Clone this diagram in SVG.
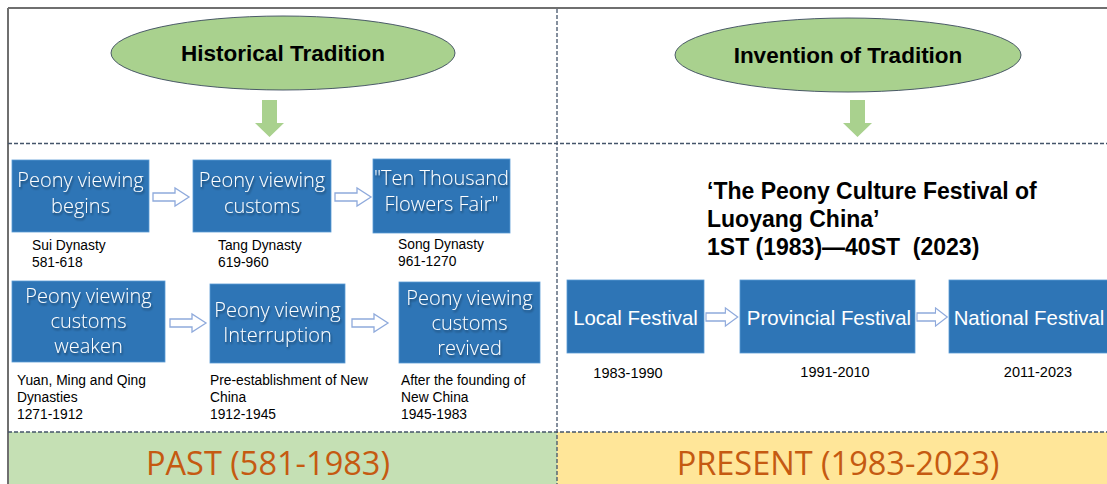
<svg xmlns="http://www.w3.org/2000/svg" width="1107" height="484" viewBox="0 0 1107 484">
<style>
.frame{stroke:#6f6f6f;stroke-width:2;fill:none}
.dash{stroke:#44546a;stroke-width:1.3;stroke-dasharray:4,2;fill:none}
.oval{fill:#a9d18e;stroke:#3b4a5e;stroke-width:0.9}
.oval-t{font-family:"Liberation Sans",Arial,sans-serif;font-weight:bold;font-size:22.5px;fill:#000;text-anchor:middle}
.green-arrow{fill:#a9d18e}
.box{fill:#2e75b6;stroke:#5b9bd5;stroke-width:0.8}
.bt{font-family:"Open Sans","Noto Sans",sans-serif;font-weight:300;font-size:20px;fill:#fff;text-anchor:middle}
.bt2{font-family:"Liberation Sans",Arial,sans-serif;font-size:20.4px;fill:#fff;text-anchor:middle}
.lbl{font-family:"Liberation Sans",Arial,sans-serif;font-size:13.8px;fill:#000}
.lblc{font-family:"Liberation Sans",Arial,sans-serif;font-size:14.5px;fill:#000;text-anchor:middle}
.hollow{fill:#fff;stroke:#8faadc;stroke-width:1.3}
.title{font-family:"Liberation Sans",Arial,sans-serif;font-weight:bold;font-size:23px;fill:#000}
.era{font-family:"Open Sans","Noto Sans",sans-serif;font-size:32.5px;fill:#c55a11;text-anchor:middle}
</style>
<defs>
<filter id="sh" x="-10%" y="-20%" width="130%" height="150%">
<feGaussianBlur in="SourceAlpha" stdDeviation="1.2"/>
<feOffset dx="1" dy="1.5" result="b"/>
<feFlood flood-color="#000" flood-opacity="0.45"/>
<feComposite in2="b" operator="in"/>
<feMerge><feMergeNode/><feMergeNode in="SourceGraphic"/></feMerge>
</filter>
<path id="ha" d="M0,-4 H22 V-9 L36,0 L22,9 V4 H0 Z"/>
</defs>

<!-- bottom bands -->
<g id="bands">
<rect x="8" y="432" width="549" height="52" fill="#c5e0b4"/>
<rect x="557" y="432" width="550" height="52" fill="#ffe699"/>
<text class="era" x="268" y="475">PAST (581-1983)</text>
<text class="era" x="838" y="475">PRESENT (1983-2023)</text>
</g>

<!-- frame and dividers -->
<g id="frame">
<line class="frame" x1="8" y1="8" x2="1107" y2="8"/>
<line class="frame" x1="8" y1="8" x2="8" y2="484"/>
<line class="dash" x1="8" y1="143.5" x2="1107" y2="143.5"/>
<line class="dash" x1="8" y1="432" x2="1107" y2="432"/>
<line class="dash" x1="557" y1="9" x2="557" y2="484"/>
</g>

<g id="historical">
<ellipse class="oval" cx="283" cy="53" rx="172" ry="37"/>
<text class="oval-t" x="283" y="61">Historical Tradition</text>
</g>
<g id="invention">
<ellipse class="oval" cx="848" cy="55" rx="173" ry="37"/>
<text class="oval-t" x="848" y="63">Invention of Tradition</text>
</g>

<g id="b1">
<rect class="box" x="12" y="160" width="137" height="72"/>
<text class="bt" filter="url(#sh)"><tspan x="80.5" y="187">Peony viewing</tspan><tspan x="80.5" y="213">begins</tspan></text>
<text class="lbl"><tspan x="32" y="250">Sui Dynasty</tspan><tspan x="32" y="267">581-618</tspan></text>
</g>
<g id="b2">
<rect class="box" x="193" y="160" width="138" height="72"/>
<text class="bt" filter="url(#sh)"><tspan x="262" y="187">Peony viewing</tspan><tspan x="262" y="213">customs</tspan></text>
<text class="lbl"><tspan x="218" y="250">Tang Dynasty</tspan><tspan x="218" y="267">619-960</tspan></text>
</g>
<g id="b3">
<rect class="box" x="373" y="159" width="137" height="74"/>
<text class="bt" filter="url(#sh)"><tspan x="441.5" y="185">"Ten Thousand</tspan><tspan x="441.5" y="211">Flowers Fair"</tspan></text>
<text class="lbl"><tspan x="398" y="249">Song Dynasty</tspan><tspan x="398" y="266">961-1270</tspan></text>
</g>
<g id="b4">
<rect class="box" x="12" y="281" width="153" height="81"/>
<text class="bt" filter="url(#sh)"><tspan x="88.5" y="303">Peony viewing</tspan><tspan x="88.5" y="328">customs</tspan><tspan x="88.5" y="353">weaken</tspan></text>
<text class="lbl"><tspan x="17" y="385">Yuan, Ming and Qing</tspan><tspan x="17" y="402">Dynasties</tspan><tspan x="17" y="419">1271-1912</tspan></text>
</g>
<g id="b5">
<rect class="box" x="210" y="284" width="135" height="79"/>
<text class="bt" filter="url(#sh)"><tspan x="277.5" y="317">Peony viewing</tspan><tspan x="277.5" y="342">Interruption</tspan></text>
<text class="lbl"><tspan x="210" y="385">Pre-establishment of New</tspan><tspan x="210" y="402">China</tspan><tspan x="210" y="419">1912-1945</tspan></text>
</g>
<g id="b6">
<rect class="box" x="399" y="282" width="141" height="81"/>
<text class="bt" filter="url(#sh)"><tspan x="469.5" y="305">Peony viewing</tspan><tspan x="469.5" y="330">customs</tspan><tspan x="469.5" y="355">revived</tspan></text>
<text class="lbl"><tspan x="401" y="385">After the founding of</tspan><tspan x="401" y="402">New China</tspan><tspan x="401" y="419">1945-1983</tspan></text>
</g>

<g id="festival-title">
<text class="title"><tspan x="707" y="199">‘The Peony Culture Festival of</tspan><tspan x="707" y="227">Luoyang China’</tspan><tspan x="707" y="255">1ST (1983)—40ST &#160;(2023)</tspan></text>
</g>

<g id="local">
<rect class="box" x="567" y="280" width="137" height="73"/>
<text class="bt2" x="635.5" y="325">Local Festival</text>
<text class="lblc" x="628" y="378">1983-1990</text>
</g>
<g id="provincial">
<rect class="box" x="740" y="280" width="175" height="73"/>
<text class="bt2" x="829" y="325">Provincial Festival</text>
<text class="lblc" x="835" y="377">1991-2010</text>
</g>
<g id="national">
<rect class="box" x="949" y="280" width="170" height="73"/>
<text class="bt2" x="1029" y="325">National Festival</text>
<text class="lblc" x="1038" y="377">2011-2023</text>
</g>

<g id="connectors">
<path class="green-arrow" d="M262,100 H277 V123 H284 L269.5,137 L255,123 H262 Z"/>
<path class="green-arrow" d="M850,100 H865 V123 H872 L857.5,137 L843,123 H850 Z"/>
<use href="#ha" class="hollow" transform="translate(153,197)"/>
<use href="#ha" class="hollow" transform="translate(335,197)"/>
<use href="#ha" class="hollow" transform="translate(170,323)"/>
<use href="#ha" class="hollow" transform="translate(352,323)"/>
<use href="#ha" class="hollow" transform="translate(706,317) scale(0.88,1)"/>
<use href="#ha" class="hollow" transform="translate(917,317) scale(0.84,1)"/>
</g>
</svg>
